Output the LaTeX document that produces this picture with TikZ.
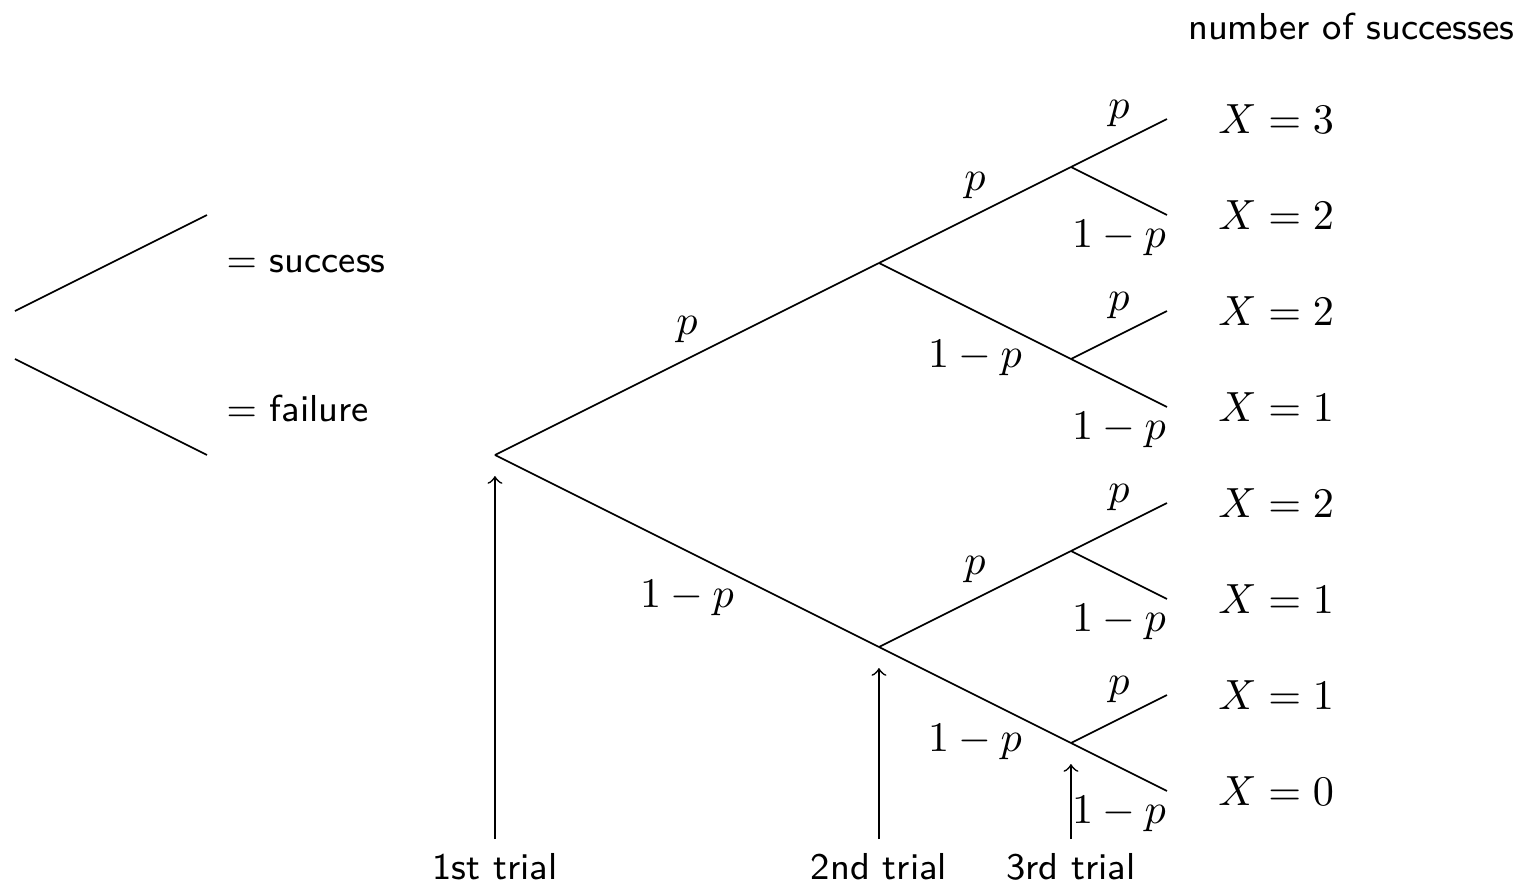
\documentclass[tikz,border=0pt]{standalone}
\usepackage{amsmath,amssymb}
\usepackage{tikz}
\usetikzlibrary{positioning}

\begin{document}
\begin{tikzpicture}[x=0.8cm, y=0.8cm, >=to,
		txt/.style={font=\fontsize{8.9pt}{11pt}\selectfont\sffamily},
		plab/.style={above=0.3pt},
		qlab/.style={below=3.5pt},
		trial/.style={txt, anchor=north}]
		% 1. 画布范围
		\useasboundingbox (-5.156,-4.51) rectangle (10.698,4.74);
		
		% 2. 图例
		\draw (-5,1.5) -- (-3,2.5);
		\draw (-5,1) -- (-3,0);
		\node[txt, anchor=base west] (succ) at (-2.95,1.9) {$=$ success};
		\node[txt, anchor=base west] (fail) at (-2.95,0.35) {$=$ failure};
		
		% 3. 树的分叉点
		\coordinate (O) at (0,0);
		\coordinate (S) at (4,2);
		\coordinate (F) at (4,-2);
		\coordinate (SS) at (6,3);
		\coordinate (SF) at (6,1);
		\coordinate (FS) at (6,-1);
		\coordinate (FF) at (6,-3);
		
		% 4. 末端与结果 X
		\node[txt] (nsucc) at (8.92,4.46) {number of successes};
		\foreach \n/\y/\k in {SSS/3.5/3, SSF/2.5/2, SFS/1.5/2, SFF/0.5/1,
			FSS/-0.5/2, FSF/-1.5/1, FFS/-2.5/1, FFF/-3.5/0}
		{
			\coordinate (\n) at (7,\y);
			\node[right] (X\n) at (7.38,\y) {$X=\k$};
		}
		
		% 5. 分支
		\draw (O) -- node[plab] {$p$} (S);
		\draw (O) -- node[qlab] {$1-p$} (F);
		\foreach \a in {S,F,SS,SF,FS,FF}
		{
			\draw (\a) -- node[plab] {$p$} (\a S);
			\draw (\a) -- node[qlab] {$1-p$} (\a F);
		}
		
		% 6. 试验标注
		\node[trial] (t1) at (0,-4) {1st trial};
		\node[trial] (t2) at (4,-4) {2nd trial};
		\node[trial] (t3) at (6,-4) {3rd trial};
		\draw[->, shorten >=5pt] (t1.north) -- (O);
		\draw[->, shorten >=5pt] (t2.north) -- (F);
		\draw[->, shorten >=5pt] (t3.north) -- (FF);
		
	\end{tikzpicture}
\end{document}
